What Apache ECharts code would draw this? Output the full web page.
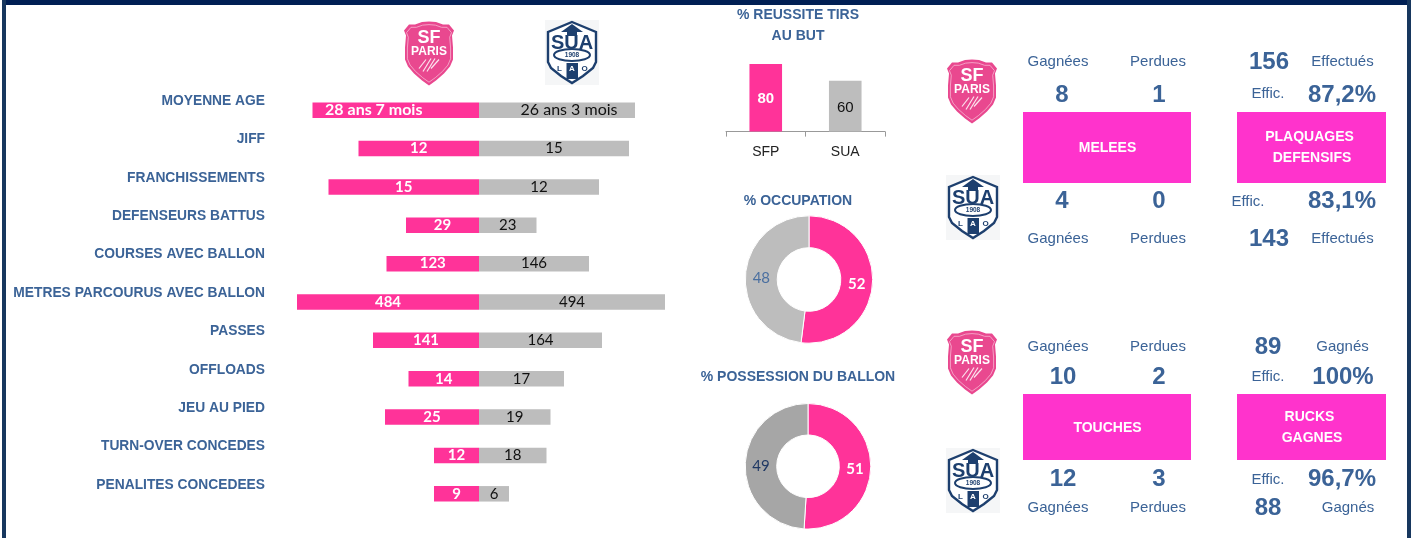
<html>

<head>
    <meta charset="utf-8">
    <script src="https://cdn.jsdelivr.net/npm/echarts@6/dist/echarts.min.js"></script>
</head>
<style>
    body {
        margin: 0;
        background: #fff;
    }

    #chart {
        width: 1414px;
        height: 538px;
    }
</style>

<body>
    <div id="chart"></div>
    <script>
        // left block, every row has its own scale in the original so bar lengths are read apart from the labels
        const categories = ['MOYENNE AGE', 'JIFF', 'FRANCHISSEMENTS', 'DEFENSEURS BATTUS', 'COURSES AVEC BALLON',
            'METRES PARCOURUS AVEC BALLON', 'PASSES', 'OFFLOADS', 'JEU AU PIED', 'TURN-OVER CONCEDES', 'PENALITES CONCEDEES']
        const sfpBars = [166.5, 120.5, 150.5, 73, 92.5, 182, 106, 70.5, 94, 45, 45]
        const suaBars = [156, 150, 120, 57.5, 110, 186, 123, 85, 71.5, 67.5, 30]
        const sfpLabels = ['28 ans 7 mois', '12', '15', '29', '123', '484', '141', '14', '25', '12', '9']
        const suaLabels = ['26 ans 3 mois', '15', '12', '23', '146', '494', '164', '17', '19', '18', '6']

        // middle block
        const shotTeams = ['SFP', 'SUA']
        const shotValues = [80, 60]
        const occupation = [52, 48]
        const possession = [51, 49]

        // right block
        const meleesValues = ['8', '1', '4', '0']
        const touchesValues = ['10', '2', '12', '3']
        const plaquagesCount = ['156', '143']
        const plaquagesEffic = ['87,2%', '83,1%']
        const rucksCount = ['89', '88']
        const rucksEffic = ['100%', '96,7%']

        const PINK = '#FF3399'
        const BOX_PINK = '#FF33CC'
        const GREY = '#BDBDBD'
        const BLUE = '#3B6397'
        const ARIAL = '"Liberation Sans", Arial, sans-serif'
        const CALIBRI = 'Lato, sans-serif'

        function txt(text, x, y, size, bold, color) {
            return {
                type: 'text',
                silent: true,
                style: {
                    text: text, x: x, y: y + 1,
                    align: 'center', verticalAlign: 'middle',
                    fontFamily: ARIAL, fontSize: size, fontWeight: bold ? 'bold' : 'normal',
                    fill: color || BLUE
                }
            }
        }

        function box(x, y, w, h) {
            return { type: 'rect', silent: true, shape: { x: x, y: y, width: w, height: h }, style: { fill: BOX_PINK } }
        }

        // club crests, plain vector approximations
        const sfShield = [[25, 0], [18, 0.6], [11, 3], [5, 3], [0, 9], [2, 14], [1, 26], [1, 38], [4, 45], [10, 52], [18, 59], [25, 64],
            [32, 59], [40, 52], [46, 45], [49, 38], [49, 26], [48, 14], [50, 9], [45, 3], [39, 3], [32, 0.6]]
        const suaShield = [[27, 2], [51, 12], [51, 42], [48, 48], [38, 56], [27, 63], [16, 56], [6, 48], [3, 42], [3, 12]]

        function shrink(points, cx, cy, k) {
            return points.map(function (p) { return [cx + (p[0] - cx) * k, cy + (p[1] - cy) * k] })
        }

        function logoSF(x, y) {
            const claw = (x1, y1, x2, y2) => ({
                type: 'line', shape: { x1: x1, y1: y1, x2: x2, y2: y2 },
                style: { stroke: '#fff', lineWidth: 1.2, opacity: 0.85 }
            })
            return {
                type: 'group', x: x, y: y, silent: true,
                children: [
                    { type: 'polygon', shape: { points: sfShield }, style: { fill: '#E9488F' } },
                    { type: 'polygon', shape: { points: shrink(sfShield, 25, 31, 0.9) }, style: { fill: 'none', stroke: '#F7B5D2', lineWidth: 0.8 } },
                    txt('SF', 25, 15.5, 18, true, '#fff'),
                    txt('PARIS', 25, 29, 12, true, '#fff'),
                    claw(15, 47, 22, 38), claw(19, 50, 27, 37), claw(23, 50, 31, 37), claw(27, 47, 35, 38)
                ]
            }
        }

        function logoSUA(x, y) {
            const navy = '#1D3F6E'
            return {
                type: 'group', x: x, y: y, silent: true,
                children: [
                    { type: 'rect', shape: { x: 0, y: 0, width: 54, height: 65 }, style: { fill: '#F5F6F7' } },
                    { type: 'polygon', shape: { points: suaShield }, style: { fill: '#fff', stroke: navy, lineWidth: 2.4 } },
                    { type: 'polygon', shape: { points: [[27, 4], [38, 12], [32, 12], [32, 16], [22, 16], [22, 12], [16, 12]] }, style: { fill: navy } },
                    { type: 'rect', shape: { x: 21.5, y: 43, width: 11.5, height: 16 }, style: { fill: navy } },
                    txt('SUA', 27, 22, 20, true, navy),
                    { type: 'ellipse', shape: { cx: 27, cy: 35, rx: 18, ry: 6 }, style: { fill: '#fff', stroke: navy, lineWidth: 2 } },
                    txt('1908', 27, 34.5, 6.5, true, navy),
                    txt('L', 14.5, 48, 8, true, navy),
                    txt('A', 27, 48, 8, true, '#fff'),
                    txt('O', 39.5, 48, 8, true, navy)
                ]
            }
        }

        const graphics = [
            // frame
            { type: 'rect', silent: true, shape: { x: 2, y: 0, width: 1405, height: 5 }, style: { fill: '#001F54' } },
            { type: 'rect', silent: true, shape: { x: 2, y: 0, width: 4, height: 538 }, style: { fill: '#17375E' } },
            { type: 'rect', silent: true, shape: { x: 1407, y: 0, width: 4, height: 538 }, style: { fill: '#17375E' } },

            logoSF(404, 21.5), logoSUA(545, 20),
            logoSF(947, 59.5), logoSUA(946, 175),
            logoSF(947, 330.5), logoSUA(946, 448),

            box(1023, 112, 168, 71), box(1237, 112, 149, 71),
            box(1023, 394, 168, 66), box(1237, 394, 149, 66),
            txt('MELEES', 1107.5, 147, 14, true, '#fff'),
            txt('PLAQUAGES', 1309.5, 136.5, 14, true, '#fff'),
            txt('DEFENSIFS', 1312, 157.5, 14, true, '#fff'),
            txt('TOUCHES', 1107.5, 427, 14, true, '#fff'),
            txt('RUCKS', 1309.5, 416.5, 14, true, '#fff'),
            txt('GAGNES', 1312, 437.5, 14, true, '#fff'),

            // melees
            txt('Gagnées', 1058, 61, 15, false), txt('Perdues', 1158, 61, 15, false),
            txt(meleesValues[0], 1062, 94, 24, true), txt(meleesValues[1], 1159, 94, 24, true),
            txt(meleesValues[2], 1062, 200, 24, true), txt(meleesValues[3], 1159, 200, 24, true),
            txt('Gagnées', 1058, 238, 15, false), txt('Perdues', 1158, 238, 15, false),

            // plaquages
            txt(plaquagesCount[0], 1269, 61, 24, true), txt('Effectués', 1342.5, 61, 15, false),
            txt('Effic.', 1268, 93, 15, false), txt(plaquagesEffic[0], 1342, 94, 24, true),
            txt('Effic.', 1248, 200.5, 15, false), txt(plaquagesEffic[1], 1342, 200, 24, true),
            txt(plaquagesCount[1], 1269, 238, 24, true), txt('Effectués', 1342.5, 238, 15, false),

            // touches
            txt('Gagnées', 1058, 346, 15, false), txt('Perdues', 1158, 346, 15, false),
            txt(touchesValues[0], 1063, 376, 24, true), txt(touchesValues[1], 1159, 376, 24, true),
            txt(touchesValues[2], 1063, 478, 24, true), txt(touchesValues[3], 1159, 478, 24, true),
            txt('Gagnées', 1058, 507, 15, false), txt('Perdues', 1158, 507, 15, false),

            // rucks
            txt(rucksCount[0], 1268, 346, 24, true), txt('Gagnés', 1342.5, 346, 15, false),
            txt('Effic.', 1268, 376, 15, false), txt(rucksEffic[0], 1343, 376, 24, true),
            txt('Effic.', 1268, 479, 15, false), txt(rucksEffic[1], 1342, 478, 24, true),
            txt(rucksCount[1], 1268, 507, 24, true), txt('Gagnés', 1348, 507, 15, false)
        ]

        function heading(text, y, lineHeight) {
            return {
                text: text, left: 798, top: y, padding: 0, textAlign: 'center',
                textStyle: { fontFamily: ARIAL, fontSize: 14, fontWeight: 'bold', color: BLUE, lineHeight: lineHeight }
            }
        }

        function barLabel(color, labels) {
            return {
                show: true, position: 'inside', color: color,
                fontFamily: CALIBRI, fontSize: 15, fontWeight: color === '#fff' ? 'bold' : 'normal',
                formatter: function (p) { return labels[p.dataIndex] }
            }
        }

        function donut(values, center, radius, rest, restLabel) {
            return {
                type: 'pie', silent: true, center: center, radius: radius, startAngle: 90, clockwise: true,
                label: { show: true, position: 'inside', formatter: '{c}', fontFamily: CALIBRI, fontSize: 15 },
                labelLine: { show: false },
                itemStyle: { borderColor: '#fff', borderWidth: 1 },
                data: [
                    { value: values[0], itemStyle: { color: PINK }, label: { color: '#fff', fontWeight: 'bold', offset: [-3, 1.5] } },
                    { value: values[1], itemStyle: { color: rest }, label: { color: restLabel, offset: [3, 1.5] } }
                ]
            }
        }

        const option = {
            animation: false,
            backgroundColor: '#fff',
            title: [
                heading('% REUSSITE TIRS\nAU BUT', 4.5, 21.4),
                heading('% OCCUPATION', 193, 16),
                heading('% POSSESSION DU BALLON', 369.5, 16)
            ],
            grid: [
                { left: 279, top: 91, width: 400, height: 422 },
                { left: 726, top: 47, width: 159, height: 84.6 }
            ],
            xAxis: [
                { type: 'value', gridIndex: 0, min: -200, max: 200, show: false },
                {
                    type: 'category', gridIndex: 1, data: shotTeams,
                    axisLine: { lineStyle: { color: '#999' } },
                    axisTick: { show: true, length: 5, lineStyle: { color: '#999' } },
                    axisLabel: { color: '#222', fontFamily: ARIAL, fontSize: 14, margin: 14 }
                }
            ],
            yAxis: [
                {
                    type: 'category', gridIndex: 0, inverse: true, data: categories,
                    axisLine: { show: false }, axisTick: { show: false },
                    axisLabel: {
                        interval: 0, color: BLUE, margin: 14, verticalAlign: 'bottom', lineHeight: 18,
                        fontFamily: ARIAL, fontSize: 13.8, fontWeight: 'bold'
                    }
                },
                { type: 'value', gridIndex: 1, min: 0, max: 100, show: false }
            ],
            series: [
                {
                    type: 'bar', silent: true, stack: 'rows', barWidth: 15.5,
                    itemStyle: { color: PINK },
                    label: barLabel('#fff', sfpLabels),
                    data: sfpBars.map(function (v, i) {
                        const item = { value: -v }
                        // the long age labels sit off-centre in the original
                        if (i === 0) item.label = { offset: [-22, 0], fontSize: 16 }
                        return item
                    })
                },
                {
                    type: 'bar', silent: true, stack: 'rows', barWidth: 15.5,
                    itemStyle: { color: GREY },
                    label: barLabel('#111', suaLabels),
                    data: suaBars.map(function (v, i) {
                        const item = { value: v }
                        if (i === 0) item.label = { offset: [12, 0], fontSize: 16 }
                        return item
                    })
                },
                {
                    type: 'bar', silent: true, xAxisIndex: 1, yAxisIndex: 1, barWidth: 32.6,
                    label: {
                        show: true, position: 'inside', fontFamily: ARIAL, fontSize: 15,
                        formatter: '{c}', offset: [0, 1.5]
                    },
                    data: [
                        { value: shotValues[0], itemStyle: { color: PINK }, label: { color: '#fff', fontWeight: 'bold' } },
                        { value: shotValues[1], itemStyle: { color: GREY }, label: { color: '#111' } }
                    ]
                },
                donut(occupation, [809, 279.5], [31.8, 63.7], GREY, '#4A6FA0'),
                donut(possession, [808, 466.3], [31.3, 62.8], '#A6A6A6', '#1F3864')
            ],
            graphic: graphics
        }

        const myChart = echarts.init(document.getElementById('chart'))
        myChart.setOption(option)
    </script>
</body>

</html>
